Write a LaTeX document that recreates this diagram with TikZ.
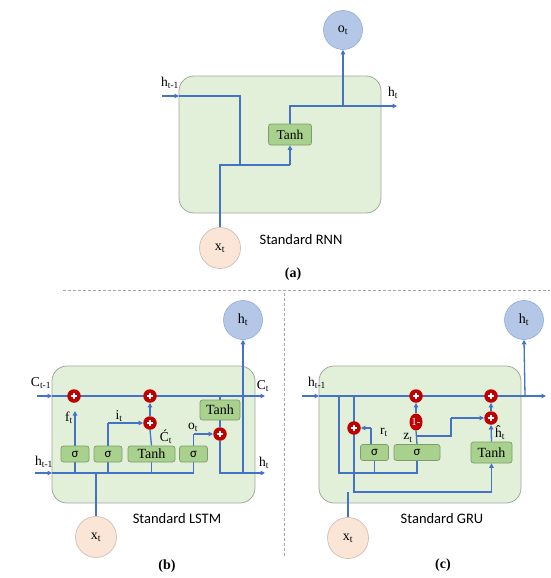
\documentclass[tikz,border=0pt]{standalone}
\usepackage{fontspec}
\setmainfont{Liberation Serif}
\newfontfamily\calibri{Carlito}
\usetikzlibrary{arrows.meta,shapes.geometric}
\definecolor{cellfill}{HTML}{E2F0D9}
\definecolor{cellborder}{HTML}{A0A89C}
\definecolor{gatefill}{HTML}{A9D18E}
\definecolor{gateborder}{HTML}{7E9C6C}
\definecolor{wirec}{HTML}{4472C4}
\definecolor{outfill}{HTML}{B4C7E7}
\definecolor{outborder}{HTML}{8FAADC}
\definecolor{infill}{HTML}{FBE5D6}
\definecolor{inborder}{HTML}{C9B8AE}
\definecolor{opred}{HTML}{C00000}
\pgfdeclarelayer{bg}
\pgfdeclarelayer{wires}
\pgfsetlayers{bg,wires,main}
\tikzset{
  cell/.style={draw=cellborder, fill=cellfill, rounded corners=15pt, line width=0.8pt, inner sep=0pt},
  gate/.style={draw=gateborder, fill=gatefill, rounded corners=2.5pt, line width=0.7pt, inner sep=0pt, minimum height=16pt, font=\fontsize{14}{14}\selectfont},
  sig/.style={gate, minimum width=28pt, font=\calibri\fontsize{13}{13}\selectfont},
  op/.style={circle, fill=opred, minimum size=13.5pt, inner sep=0pt,
    path picture={\draw[white, line width=1.1pt]
      ([xshift=-2.8pt]path picture bounding box.center) -- ([xshift=2.8pt]path picture bounding box.center)
      ([yshift=-2.8pt]path picture bounding box.center) -- ([yshift=2.8pt]path picture bounding box.center);}},
  oneminus/.style={ellipse, fill=opred, minimum width=13pt, minimum height=17pt, inner sep=0pt, text=white, font=\fontsize{11}{11}\selectfont},
  outc/.style={circle, draw=outborder, fill=outfill, line width=0.6pt, minimum size=39pt, inner sep=0pt, font=\fontsize{14}{14}\selectfont},
  inc/.style={circle, draw=inborder, fill=infill, line width=0.6pt, minimum size=41pt, inner sep=0pt, font=\fontsize{14}{14}\selectfont},
  wire/.style={draw=wirec, line width=1.3pt},
  arr/.style={wire, -{Triangle[length=4.5pt,width=4.5pt]}},
  lbl/.style={inner sep=0pt, font=\fontsize{13.5}{14}\selectfont},
  title/.style={inner sep=0pt, font=\calibri\fontsize{14.5}{15}\selectfont},
  captxt/.style={inner sep=0pt, font=\bfseries\fontsize{14}{14}\selectfont},
  sep/.style={draw=gray!70, dashed, line width=0.8pt, dash pattern=on 3pt off 2pt}
}
\begin{document}
\begin{tikzpicture}[x=1pt,y=-1pt]
\useasboundingbox (0,0) rectangle (550,578);
% ================= (a) RNN =================
\begin{pgfonlayer}{bg}
\node[cell, minimum width=202pt, minimum height=137pt] (cellA) at (280,144.5) {};
\node[cell, minimum width=203pt, minimum height=137pt] (cellB) at (153.5,434.5) {};
\node[cell, minimum width=202pt, minimum height=137pt] (cellC) at (420,434.5) {};
\end{pgfonlayer}
\node[outc] (oA) at (343,30) {o\textsubscript{t}};
\node[inc] (xA) at (220,248) {x\textsubscript{t}};
\node[gate, minimum width=43pt, minimum height=21pt, font=\fontsize{13.5}{14}\selectfont] (tanhA) at (290,134.5) {Tanh};
\coordinate (hinA) at (162,96);
\coordinate (hedgeA) at (179,96);
\coordinate (hjA) at (240,96);
\coordinate (mA) at (240,165);
\coordinate (xjA) at (220,165);
\coordinate (tjA) at (290,165);
\coordinate (outjA) at (290,106);
\coordinate (hA) at (343,106);
\coordinate (houtA) at (397,106);
\node[lbl] (lhinA) at (170,83) {h\textsubscript{t-1}};
\node[lbl] (lhoutA) at (393,93) {h\textsubscript{t}};
\node[title] (tA) at (301,240) {Standard RNN};
\node[captxt] (capA) at (293,274) {(a)};
\begin{pgfonlayer}{wires}
\draw[arr] (hinA) -- (hedgeA);
\draw[wire] (hedgeA) -- (hjA) -- (mA);
\draw[wire] (xA.north) -- (xjA) -- (tjA);
\draw[arr] (tjA) -- (tanhA.south);
\draw[wire] (tanhA.north) -- (outjA) -- (hA);
\draw[arr] (hA) -- (houtA);
\draw[arr] (hA) -- (oA.south);
\end{pgfonlayer}
% separators
\coordinate (s1) at (63,290);
\coordinate (s2) at (550,290);
\coordinate (s3) at (284,293);
\coordinate (s4) at (284,557);
\draw[sep] (s1) -- (s2);
\draw[sep] (s3) -- (s4);
% ================= (b) LSTM =================
\node[outc] (hB) at (243,320) {h\textsubscript{t}};
\node[inc] (xB) at (96,537) {x\textsubscript{t}};
\node[op] (pB1) at (74,396) {};
\node[op] (pB2) at (150,396) {};
\node[op] (pB3) at (150,423) {};
\node[op] (pB4) at (220,434) {};
\node[sig] (sB1) at (75,454) {σ};
\node[sig] (sB2) at (108,454) {σ};
\node[gate, minimum width=47pt] (tB1) at (151.5,454) {Tanh};
\node[sig] (sB3) at (193.5,454) {σ};
\node[gate, minimum width=40pt, minimum height=20pt] (tB2) at (220,410) {Tanh};
\coordinate (cinB) at (37,396);
\coordinate (cedgeB) at (52,396);
\coordinate (coutB) at (265,396);
\coordinate (cjB) at (220,396);
\coordinate (hinB) at (35,473);
\coordinate (hedgeB) at (52,473);
\coordinate (hendB) at (193.5,473);
\coordinate (xjB) at (96,473);
\coordinate (t1B) at (75,473);
\coordinate (t2B) at (108,473);
\coordinate (t3B) at (151.5,473);
\coordinate (ftB) at (75,411);
\coordinate (itB) at (108,423);
\coordinate (otB) at (193.5,434);
\coordinate (hcB) at (220,473);
\coordinate (hvB) at (243,473);
\coordinate (houtB) at (265,473);
\node[lbl] (lcinB) at (41,383) {C\textsubscript{t-1}};
\node[lbl] (lcoutB) at (263,386) {C\textsubscript{t}};
\node[lbl] (lhinB) at (44,462) {h\textsubscript{t-1}};
\node[lbl] (lhoutB) at (264,463) {h\textsubscript{t}};
\node[lbl] (lfB) at (69,418) {f\textsubscript{t}};
\node[lbl] (liB) at (119,416) {i\textsubscript{t}};
\node[lbl] (lcB) at (166,437) {Ć\textsubscript{t}};
\node[lbl] (loB) at (193,427) {o\textsubscript{t}};
\node[title] (tB) at (177,519) {Standard LSTM};
\node[captxt] (capB) at (167,566) {(b)};
\begin{pgfonlayer}{wires}
\draw[arr] (cinB) -- (cedgeB);
\draw[wire] (cedgeB) -- (cjB);
\draw[arr] (cjB) -- (coutB);
\draw[wire] (cjB) -- (tB2.north);
\draw[arr] (hinB) -- (hedgeB);
\draw[wire] (hedgeB) -- (hendB) -- (sB3.south);
\draw[wire] (xB.north) -- (xjB);
\draw[wire] (t1B) -- (sB1.south);
\draw[wire] (t2B) -- (sB2.south);
\draw[wire] (t3B) -- (tB1.south);
\draw[arr] (sB1.north) -- (ftB);
\draw[wire] (sB2.north) -- (itB);
\draw[arr] (itB) -- (pB3.west);
\draw[wire] (tB1.north) -- (pB3.south);
\draw[arr] (pB3.north) -- (pB2.south);
\draw[wire] (sB3.north) -- (otB);
\draw[arr] (otB) -- (pB4.west);
\draw[wire] (tB2.south) -- (pB4.north);
\draw[wire] (pB4.south) -- (hcB) -- (hvB);
\draw[arr] (hvB) -- (houtB);
\draw[arr] (hvB) -- (hB.south);
\end{pgfonlayer}
% ================= (c) GRU =================
\node[outc] (hC) at (524,320) {h\textsubscript{t}};
\node[inc] (xC) at (348,538) {x\textsubscript{t}};
\node[op] (pC1) at (416,396) {};
\node[op] (pC2) at (491,396) {};
\node[op] (pC3) at (491,418) {};
\node[op] (pC4) at (354,428) {};
\node[oneminus] (omC) at (416,422) {1-};
\node[sig] (sC1) at (374.5,452.5) {σ};
\node[gate, minimum width=46pt, font=\calibri\fontsize{13}{13}\selectfont] (sC2) at (417,452.5) {σ};
\node[gate, minimum width=41pt, minimum height=21pt] (tC) at (491.5,452.5) {Tanh};
\coordinate (hinC) at (302,396);
\coordinate (hedgeC) at (319,396);
\coordinate (hvC) at (525,396);
\coordinate (houtC) at (546,396);
\coordinate (aTopC) at (339,396);
\coordinate (aBotC) at (339,473);
\coordinate (aEndC) at (417,473);
\coordinate (aTapC) at (374.5,473);
\coordinate (bTopC) at (354,396);
\coordinate (bBotC) at (354,492);
\coordinate (bEndC) at (491.5,492);
\coordinate (xjC) at (348,492);
\coordinate (rC) at (371,428);
\coordinate (zjC) at (417,436);
\coordinate (z1C) at (451,436);
\coordinate (z2C) at (451,418);
\node[lbl] (lhinC) at (317,383) {h\textsubscript{t-1}};
\node[lbl] (lrC) at (384,432) {r\textsubscript{t}};
\node[lbl] (lzC) at (408,438) {z\textsubscript{t}};
\node[lbl] (lhhC) at (500,433) {ĥ\textsubscript{t}};
\node[title] (tC2) at (442,519) {Standard GRU};
\node[captxt] (capC) at (443,565) {(c)};
\begin{pgfonlayer}{wires}
\draw[arr] (hinC) -- (hedgeC);
\draw[wire] (hedgeC) -- (hvC);
\draw[arr] (hvC) -- (houtC);
\draw[arr] (hvC) -- (hC.south);
\draw[wire] (aTopC) -- (aBotC) -- (aEndC) -- (sC2.south);
\draw[wire] (aTapC) -- (sC1.south);
\draw[wire] (bTopC) -- (bBotC) -- (bEndC);
\draw[arr] (bEndC) -- (tC.south);
\draw[wire] (xC.north) -- (xjC);
\draw[wire] ([xshift=-3.5pt]sC1.north) -- (rC);
\draw[arr] (rC) -- (pC4.east);
\draw[wire] (sC2.north) -- (omC.south);
\draw[arr] (omC.north) -- (pC1.south);
\draw[wire] (zjC) -- (z1C) -- (z2C);
\draw[arr] (z2C) -- (pC3.west);
\draw[arr] (tC.north) -- (pC3.south);
\draw[arr] (pC3.north) -- (pC2.south);
\end{pgfonlayer}
\end{tikzpicture}
\end{document}
